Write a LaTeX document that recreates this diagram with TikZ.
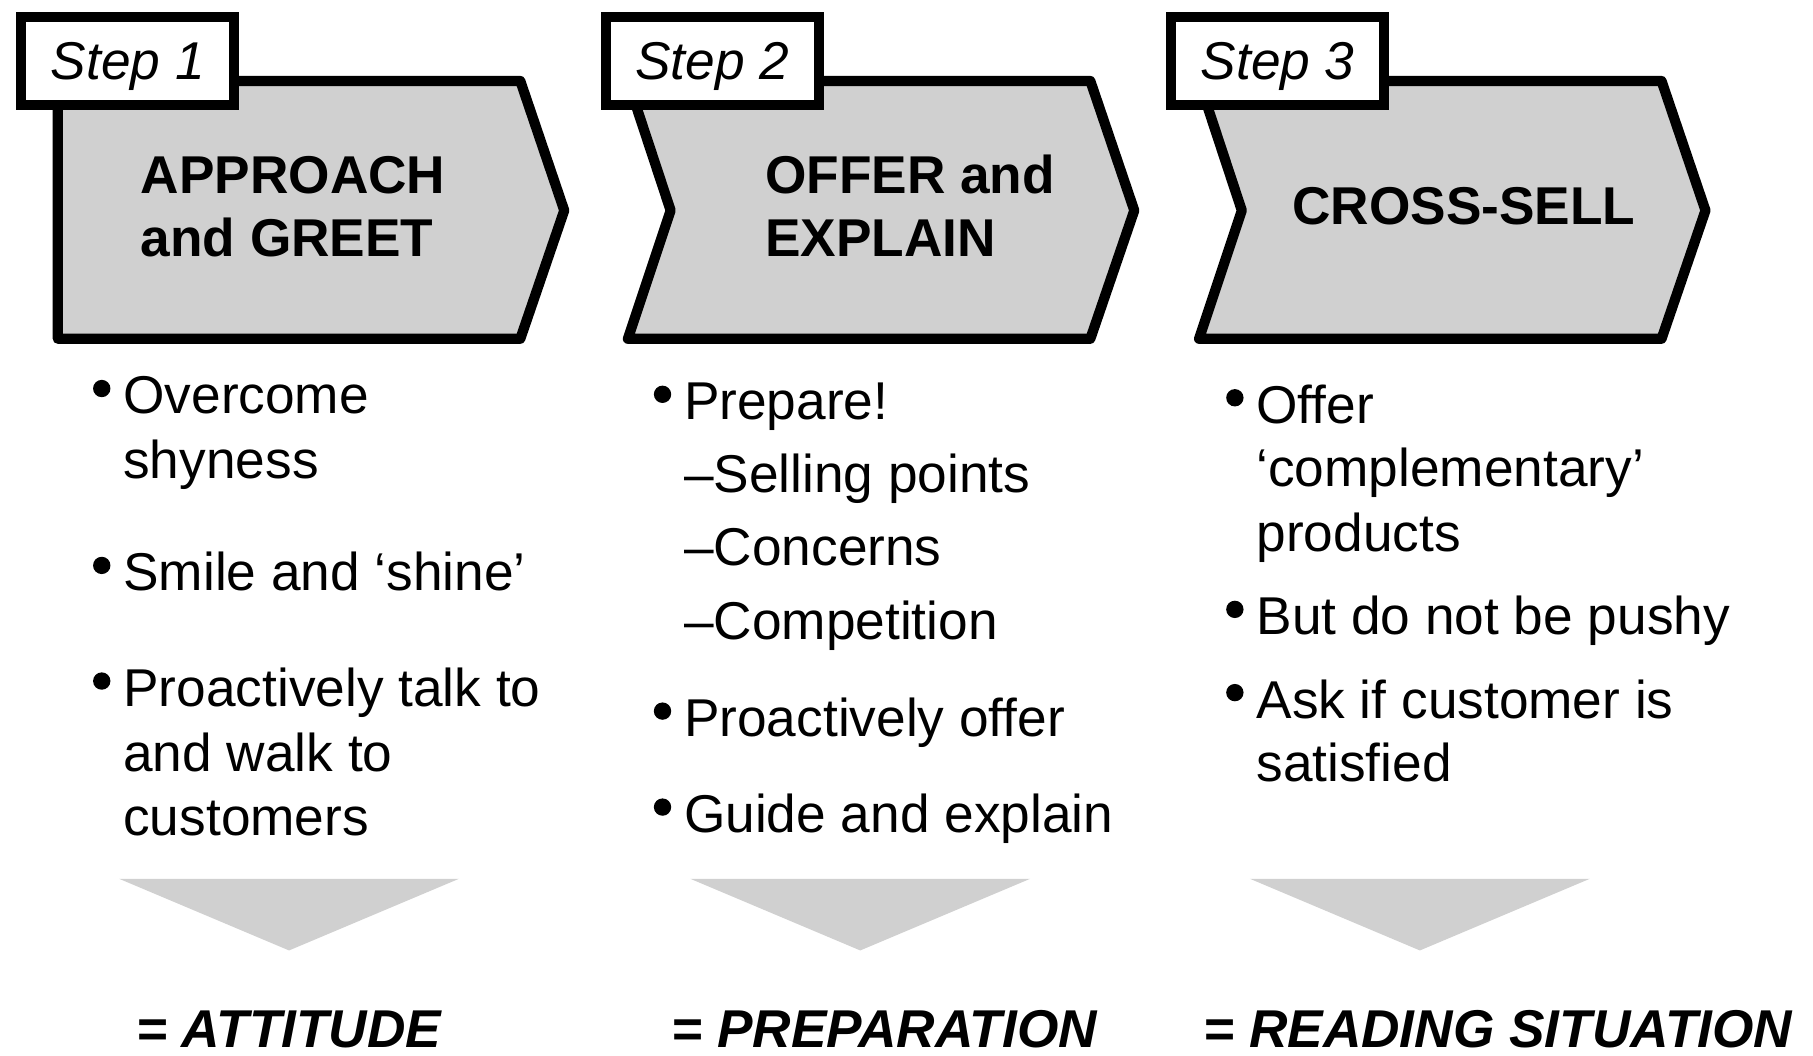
\documentclass[tikz,border=0pt]{standalone}
\usepackage{fontspec}
\setmainfont{Liberation Sans}
\usetikzlibrary{positioning}
\definecolor{chevfill}{RGB}{208,208,208}
\definecolor{pointergray}{RGB}{208,208,208}
\tikzset{
  chevron/.style={draw=black,fill=chevfill,line width=2.5pt,line join=round},
  steptag/.style={draw=black,fill=white,line width=2.5pt,minimum width=18.4mm,minimum height=7.6mm,
    inner sep=0pt,text depth=0pt,font=\fontsize{13.1}{15}\selectfont\itshape},
  headtext/.style={anchor=base west,inner sep=0pt,font=\fontsize{13.1}{15}\selectfont\bfseries},
  bodytext/.style={anchor=base west,inner sep=0pt,font=\fontsize{13.1}{15}\selectfont},
  bulletdot/.style={circle,fill=black,inner sep=0pt,minimum size=1.5mm},
  resulttext/.style={anchor=base west,inner sep=0pt,font=\fontsize{13.1}{15}\selectfont\bfseries\itshape},
}
\newcommand{\stepshape}[2]{%
  \draw[chevron] (#1,70) -- ++(400,0) -- ++(38,112) -- ++(-38,111) -- ++(-400,0) -- ++(#2,-111) -- cycle;%
}
\newcommand{\downpointer}[1]{%
  \fill[pointergray] (#1,760) -- ++(294,0) -- ++(-147,62) -- cycle;%
}
\newcommand{\pointitem}[4]{%
  \node[bulletdot] (#1dot) at (#2-18,#3-22) {};%
  \node[bodytext] (#1) at (#2,#3) {#4};%
}

\begin{document}
\begin{tikzpicture}[x=0.1mm,y=-0.1mm]
  \useasboundingbox (0,0) rectangle (1568,913);
  \stepshape{50}{0}
  \stepshape{543}{37}
  \stepshape{1037}{37}
  \node[steptag] (tag1) at (110.5,52.5) {Step 1};
  \node[steptag] (tag2) at (616,52.5) {Step 2};
  \node[steptag] (tag3) at (1105,52.5) {Step 3};
  \node[headtext] (head1a) at (121,167) {APPROACH};
  \node[headtext] (head1b) at (121,222) {and GREET};
  \node[headtext] (head2a) at (661,167) {OFFER and};
  \node[headtext] (head2b) at (661,222) {EXPLAIN};
  \node[headtext] (head3) at (1117,194) {CROSS-SELL};
  % attitude column
  \pointitem{p11}{106}{358}{Overcome}
  \node[bodytext] (p11b) at (106,414) {shyness};
  \pointitem{p12}{106}{511}{Smile and ‘shine’}
  \pointitem{p13}{106}{611}{Proactively talk to}
  \node[bodytext] (p13b) at (106,667) {and walk to};
  \node[bodytext] (p13c) at (106,723) {customers};
  % preparation column
  \pointitem{p21}{591}{363}{Prepare!}
  \node[bodytext] (p21a) at (591,426) {–Selling points};
  \node[bodytext] (p21b) at (591,489) {–Concerns};
  \node[bodytext] (p21c) at (591,553) {–Competition};
  \pointitem{p22}{591}{637}{Proactively offer}
  \pointitem{p23}{591}{720}{Guide and explain}
  % reading column
  \pointitem{p31}{1086}{366}{Offer}
  \node[bodytext] (p31b) at (1086,421) {‘complementary’};
  \node[bodytext] (p31c) at (1086,477) {products};
  \pointitem{p32}{1086}{549}{But do not be pushy}
  \pointitem{p33}{1086}{621}{Ask if customer is}
  \node[bodytext] (p33b) at (1086,676) {satisfied};
  \foreach \px in {103,597,1081} {\downpointer{\px}}
  \node[resulttext] (res1) at (117,906) {= ATTITUDE};
  \node[resulttext] (res2) at (580,906) {= PREPARATION};
  \node[resulttext] (res3) at (1040,906) {= READING SITUATION};
\end{tikzpicture}
\end{document}
